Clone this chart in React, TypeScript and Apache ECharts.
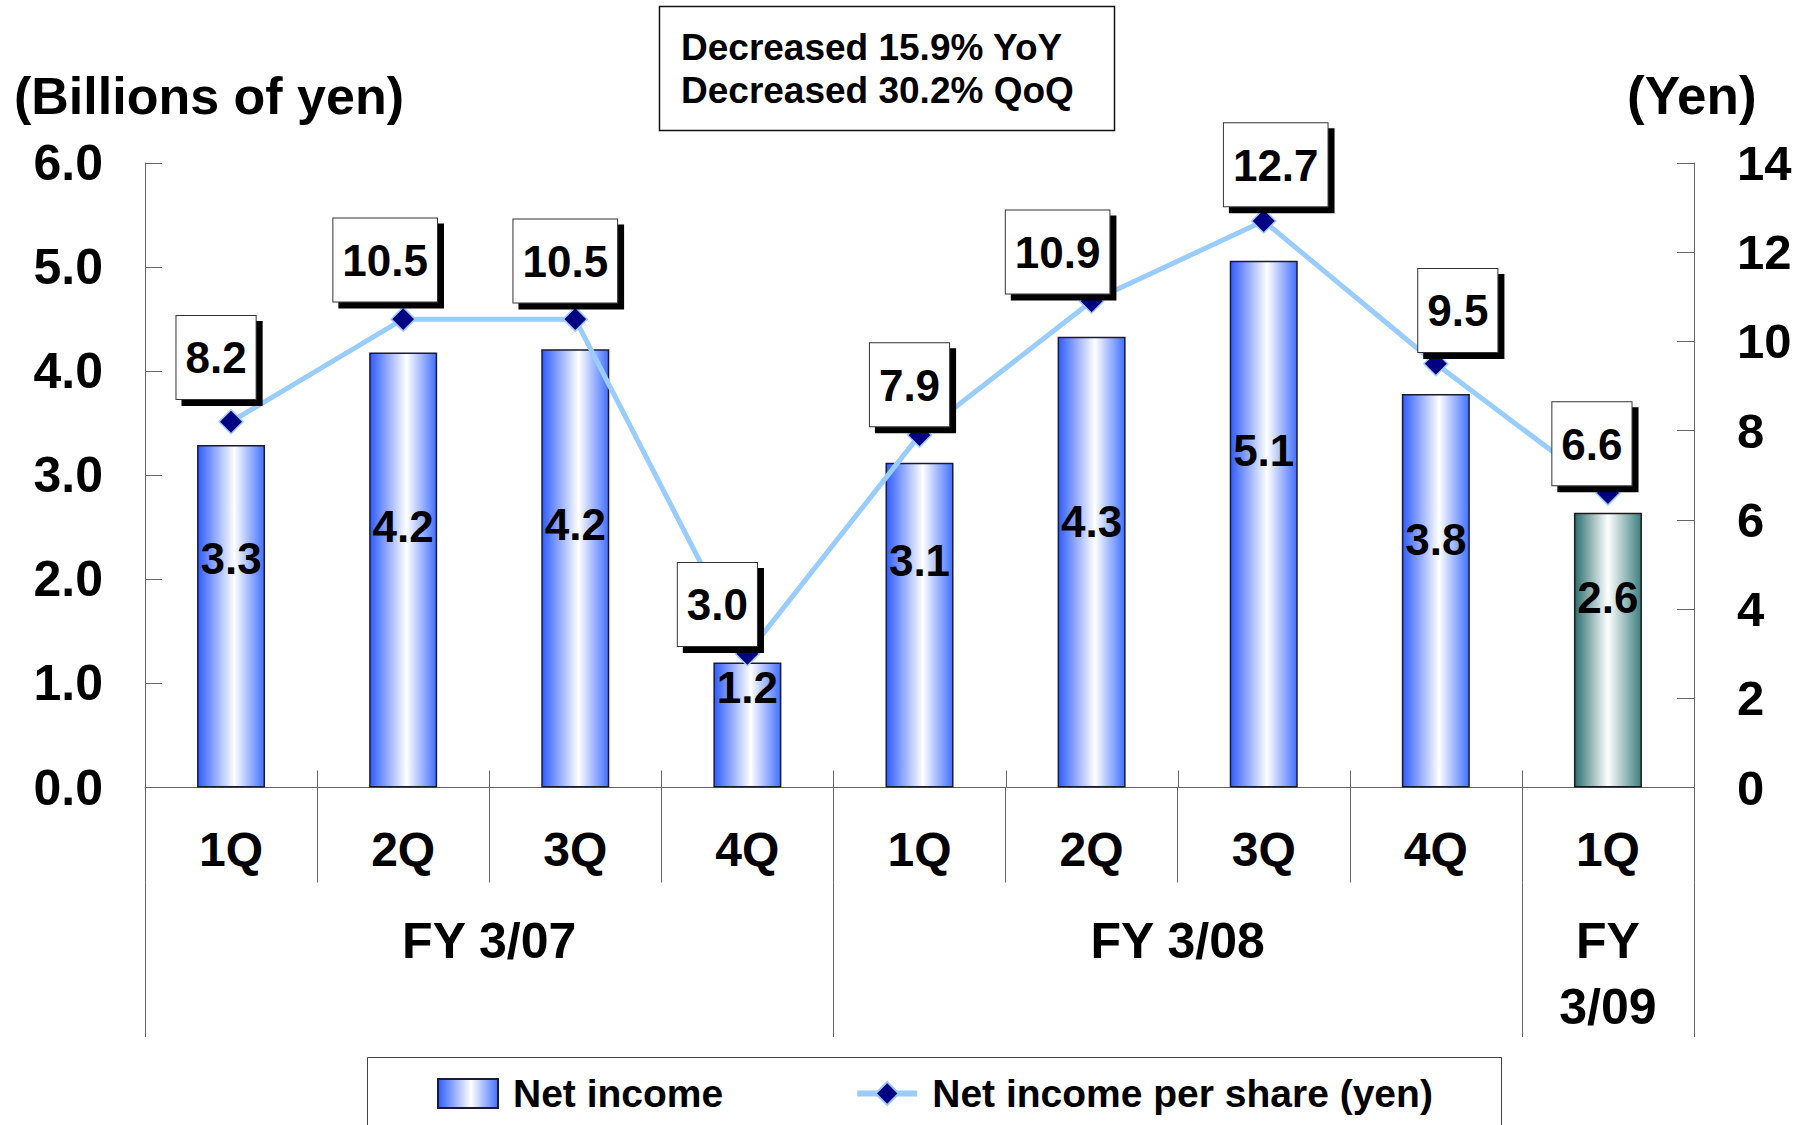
import { useEffect, useRef } from 'react';
import * as echarts from 'echarts';

// ---- data ----
const quarters = ['1Q', '2Q', '3Q', '4Q', '1Q', '2Q', '3Q', '4Q', '1Q'];
const fyLabels = ['FY 3/07', 'FY 3/08', 'FY\n3/09'];
const fyStart = [0, 4, 8];
const fyEnd = [3, 7, 8];
const netIncome = [3.29, 4.18, 4.21, 1.2, 3.12, 4.33, 5.06, 3.78, 2.64]; // billions of yen
const eps = [8.2, 10.5, 10.5, 3.0, 7.9, 10.9, 12.7, 9.5, 6.6]; // yen
const noteLines = ['Decreased 15.9% YoY', 'Decreased 30.2% QoQ'];

// ---- style helpers (not data) ----
const barLabelPct = ['33%', '40%', '40%', '20%', '30%', '41%', '36%', '37%', '31%'];
const epsLabelOffset = [
  [-15, -10], [-18, -5], [-10, -4], [-30, 5], [-10, 4], [-34, 5], [12, -2], [22, 1], [-16, 5],
];
const FONT = '"Liberation Sans", Arial, Helvetica, sans-serif';

export default function App() {
  const ref = useRef<HTMLDivElement>(null);

  useEffect(() => {
    if (!ref.current) return;
    const chart = echarts.init(ref.current, null, { renderer: 'svg' });

    const blueGrad = new echarts.graphic.LinearGradient(0, 0, 1, 0, [
      { offset: 0, color: '#2F5CFF' },
      { offset: 0.55, color: '#FFFFFF' },
      { offset: 1, color: '#4270FF' },
    ]);
    const tealGrad = new echarts.graphic.LinearGradient(0, 0, 1, 0, [
      { offset: 0, color: '#2C6E6E' },
      { offset: 0.5, color: '#FFFFFF' },
      { offset: 1, color: '#3D7F7F' },
    ]);
    const currentStart = fyStart[fyStart.length - 1];

    const axisGray = '#666666';

    chart.setOption({
      animation: false,
      textStyle: { fontFamily: FONT },
      grid: { left: 145, right: 110, top: 163, bottom: 337.5 },
      legend: {
        left: 437,
        top: 1074,
        padding: 0,
        itemWidth: 60,
        itemHeight: 29,
        itemGap: 131,
        lineStyle: { width: 6 },
        textStyle: { fontSize: 39, fontWeight: 'bold', color: '#000', fontFamily: FONT, padding: [0, 0, 0, 10] },
        data: [{ name: 'Net income', icon: 'rect' }, { name: 'Net income per share (yen)' }],
      },
      xAxis: {
        type: 'category',
        data: quarters,
        boundaryGap: true,
        axisLine: { show: true, lineStyle: { color: axisGray, width: 1 } },
        axisTick: { show: true, interval: 0, length: 95, lineStyle: { color: axisGray, width: 1 } },
        axisLabel: {
          interval: 0,
          margin: 38,
          fontSize: 48,
          fontWeight: 'bold',
          color: '#000',
          fontFamily: FONT,
        },
      },
      yAxis: [
        {
          type: 'value',
          min: 0,
          max: 6,
          interval: 1,
          axisLine: { show: true, lineStyle: { color: axisGray, width: 1 } },
          axisTick: { show: true, inside: true, length: 17, lineStyle: { color: axisGray } },
          splitLine: { show: false },
          axisLabel: {
            margin: 42,
            fontSize: 50,
            fontWeight: 'bold',
            color: '#000',
            fontFamily: FONT,
            formatter: (v: number) => v.toFixed(1),
          },
        },
        {
          type: 'value',
          position: 'right',
          min: 0,
          max: 14,
          interval: 2,
          axisLine: { show: true, lineStyle: { color: axisGray, width: 1 } },
          axisTick: { show: true, inside: true, length: 17, lineStyle: { color: axisGray } },
          splitLine: { show: false },
          axisLabel: {
            margin: 43,
            fontSize: 49,
            fontWeight: 'bold',
            color: '#000',
            fontFamily: FONT,
          },
        },
      ],
      series: [
        {
          type: 'bar',
          name: 'Net income',
          yAxisIndex: 0,
          barWidth: 68,
          itemStyle: { color: blueGrad, borderColor: '#1a1a33', borderWidth: 1.5 },
          label: {
            show: true,
            fontSize: 44,
            fontWeight: 'bold',
            color: '#000',
            fontFamily: FONT,
            align: 'center',
            verticalAlign: 'middle',
            formatter: (p: any) => Number(p.value).toFixed(1),
          },
          data: netIncome.map((v, i) => ({
            value: v,
            itemStyle: i >= currentStart ? { color: tealGrad, borderColor: '#1a1a1a' } : undefined,
            label: { position: ['50%', barLabelPct[i]] },
          })),
          z: 2,
        },
        {
          type: 'line',
          name: 'Net income per share (yen)',
          yAxisIndex: 1,
          symbol: 'diamond',
          symbolSize: 24,
          lineStyle: { color: '#99CCFF', width: 5 },
          itemStyle: { color: '#000080', borderColor: '#99CCFF', borderWidth: 1.5 },
          label: {
            show: true,
            position: 'top',
            distance: 0,
            fontSize: 44,
            fontWeight: 'bold',
            color: '#000',
            fontFamily: FONT,
            backgroundColor: '#FFFFFF',
            borderColor: '#333',
            borderWidth: 1,
            padding: [20, 9, 19, 9],
            shadowColor: '#000',
            shadowBlur: 0,
            shadowOffsetX: 6,
            shadowOffsetY: 6,
            formatter: (p: any) => Number(p.value).toFixed(1),
          },
          data: eps.map((v, i) => ({ value: v, label: { offset: epsLabelOffset[i] } })),
          z: 5,
        },
      ],
    });

    // ---- decorations derived from the axes ----
    const cx = (i: number) => chart.convertToPixel({ xAxisIndex: 0 }, i) as unknown as number;
    const step = cx(1) - cx(0);
    const edge = (k: number) => cx(0) - step / 2 + k * step;
    const yBase = chart.convertToPixel({ yAxisIndex: 0 }, 0) as unknown as number;
    const tickLen = 95;
    const stubUp = 17;
    const groupBottom = 1037;

    const lineStyle = { stroke: axisGray, lineWidth: 1 };
    const gfx: any[] = [];
    const crisp = (x: number) => Math.round(x) + 0.5;

    // inner stubs above the axis at each quarter boundary
    for (let k = 1; k < quarters.length; k++) {
      gfx.push({
        type: 'line',
        silent: true,
        shape: { x1: crisp(edge(k)), y1: yBase - stubUp, x2: crisp(edge(k)), y2: yBase },
        style: lineStyle,
      });
    }
    // fiscal year group separators
    const groupEdges = new Set<number>();
    fyStart.forEach((s, g) => {
      groupEdges.add(s);
      groupEdges.add(fyEnd[g] + 1);
    });
    groupEdges.forEach((k) => {
      gfx.push({
        type: 'line',
        silent: true,
        shape: { x1: crisp(edge(k)), y1: yBase + tickLen, x2: crisp(edge(k)), y2: groupBottom },
        style: lineStyle,
      });
    });
    // fiscal year labels
    fyLabels.forEach((lab, g) => {
      const mid = (cx(fyStart[g]) + cx(fyEnd[g])) / 2;
      gfx.push({
        type: 'text',
        silent: true,
        style: {
          text: lab,
          x: mid,
          y: 908,
          fill: '#000',
          font: `bold 50px ${FONT}`,
          lineHeight: 66,
          align: 'center',
          textAlign: 'center',
          verticalAlign: 'top',
          textVerticalAlign: 'top',
        },
      });
    });

    // axis titles
    gfx.push({
      type: 'text',
      silent: true,
      style: {
        text: '(Billions of yen)',
        x: 14,
        y: 95.5,
        fill: '#000',
        font: `bold 52px ${FONT}`,
        align: 'left',
        textAlign: 'left',
        verticalAlign: 'middle',
        textVerticalAlign: 'middle',
      },
    });
    gfx.push({
      type: 'text',
      silent: true,
      style: {
        text: '(Yen)',
        x: 1627,
        y: 95.5,
        fill: '#000',
        font: `bold 53px ${FONT}`,
        align: 'left',
        textAlign: 'left',
        verticalAlign: 'middle',
        textVerticalAlign: 'middle',
      },
    });

    // note box
    gfx.push({
      type: 'rect',
      silent: true,
      shape: { x: 659.5, y: 6.5, width: 455, height: 124 },
      style: { fill: '#fff', stroke: '#111', lineWidth: 1.5 },
      z: 10,
    });
    noteLines.forEach((t, i) => {
      gfx.push({
        type: 'text',
        silent: true,
        z: 11,
        style: {
          text: t,
          x: 681,
          y: 47 + i * 43,
          fill: '#000',
          font: `bold 37px ${FONT}`,
          align: 'left',
          textAlign: 'left',
          verticalAlign: 'middle',
          textVerticalAlign: 'middle',
        },
      });
    });

    // legend frame
    gfx.push({
      type: 'rect',
      silent: true,
      z: -1,
      shape: { x: 367.5, y: 1057.5, width: 1134, height: 120 },
      style: { fill: 'none', stroke: '#444', lineWidth: 1 },
    });

    chart.setOption({ graphic: gfx });

    return () => chart.dispose();
  }, []);

  return (
    <div
      ref={ref}
      style={{ position: 'fixed', left: 0, top: 0, width: 1804, height: 1125, background: '#fff' }}
    />
  );
}
